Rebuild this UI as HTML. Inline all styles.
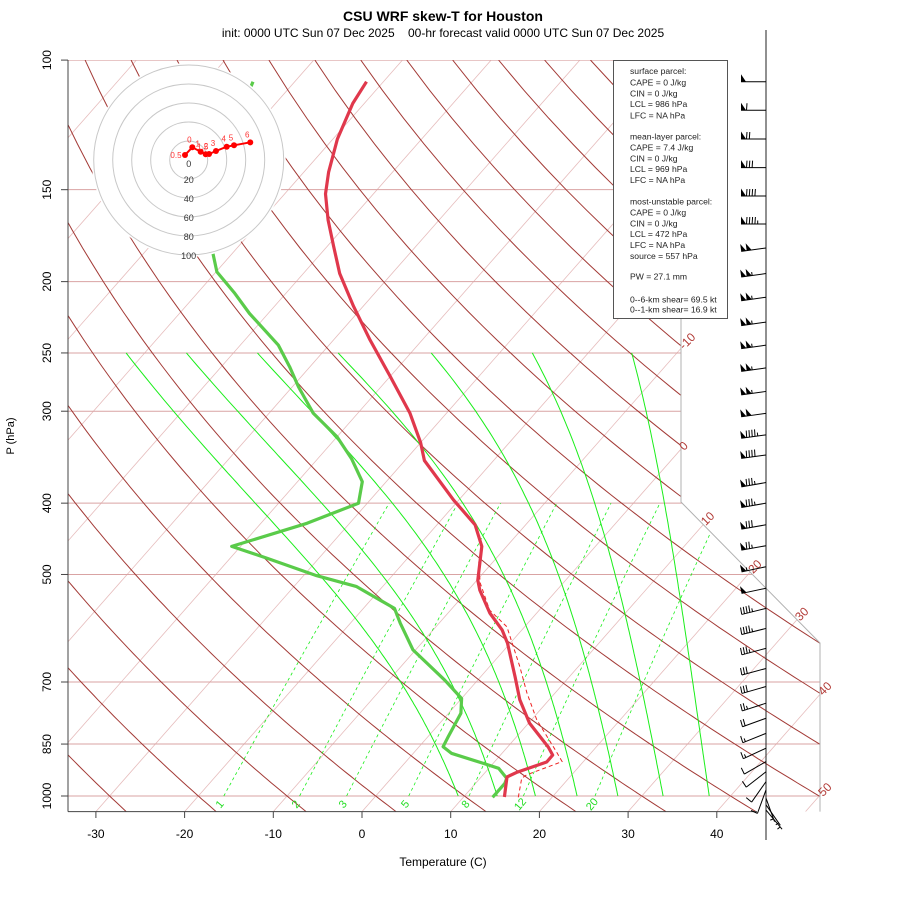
<!DOCTYPE html>
<html><head><meta charset="utf-8"><style>
body{margin:0;background:#fff;}
svg{display:block;font-family:"Liberation Sans",sans-serif;}
</style></head><body>
<svg id="chart" width="900" height="900" viewBox="0 0 900 900" xmlns="http://www.w3.org/2000/svg">
<defs><clipPath id="plotclip"><polygon points="68,60 681,60 681,502 820,643 820,811.6 68,811.6"/></clipPath></defs>
<rect x="0" y="0" width="900" height="900" fill="#fff"/>
<text x="443" y="21" font-size="14" font-weight="bold" text-anchor="middle">CSU WRF skew-T for Houston</text>
<text x="443" y="37" font-size="12" text-anchor="middle" xml:space="preserve">init: 0000 UTC Sun 07 Dec 2025    00-hr forecast valid 0000 UTC Sun 07 Dec 2025</text>
<g id="bg" clip-path="url(#plotclip)"></g>
<g id="fg"></g>
</svg>
<script>
// ---- data ----
const pressureTicks=[100,150,200,250,300,400,500,700,850,1000];
const tempTicks=[-30,-20,-10,0,10,20,30,40];
const mixRatios=[1,2,3,5,8,12,20];
const moistT1000=[9.3,13.7,18,22.7,27.3,32.4,37.6];
const moistT250=[-72.1,-65.3,-57.3,-48.2,-37.7,-26.3,-15.1];
const isoTemps=[-150,-140,-130,-120,-110,-100,-90,-80,-70,-60,-50,-40,-30,-20,-10,0,10,20,30,40,50];
const isoLabelTemps=[-10,0,10,20,30,40,50];
const thetas=[-40,-30,-20,-10,0,10,20,30,40,50,60,70,80,90,100,110,120,130,140,150,160,170,180,190,200,210,220,230,240,250];
const tempP=[107,114.5,128,142,152,165,179,195,216,240,269,302,331,350,396,428,458,509,525,564,595,620,689,740,796,858,880,899,928,942,1003];
const tempT=[-71.9,-71.3,-69.5,-67.2,-65.4,-62.5,-59.3,-55.9,-51.1,-45.9,-40.0,-34.1,-30.0,-27.8,-20.6,-15.7,-12.8,-9.9,-8.7,-5.3,-2.2,-0.3,3.9,6.7,10.1,14.6,15.9,15.9,13.6,12.9,14.6];
const dewP=[107,109,130,155,183,194,207,221,244,261,278,302,325,348,374,400,426,458,475,502,519,556,582,633,696,737,772,831,857,875,903,917,946,961,1004];
const dewT=[-84.7,-84.4,-80,-76,-72.2,-69.9,-65.9,-62.1,-55.7,-52.3,-49.3,-45.0,-40.0,-36.2,-32.7,-31.0,-34.8,-41.0,-35.9,-28.5,-23.0,-16.5,-14.4,-10.3,-3.7,0.0,1.4,2.3,2.7,4.3,8.9,11.1,13.0,13.3,13.3];
const parcelP=[1004,946,936,898,871,788,724,667,589,559,513,478];
const parcelT=[16.2,14.7,14.9,17.6,16.0,10.6,6.8,3.4,-2.0,-5.6,-9.4,-11.8];
const barbP=[107,117,128,140,153,167,180,195,210,227,244,262,282,302,323,344,375,400,428,457,488,522,556,592,630,671,710,748,784,822,861,898,927,956,981,1007,1028,1045];
const barbSpd=[50,60,70,80,90,95,100,105,105,105,105,105,105,100,95,90,85,85,80,75,55,50,45,45,35,30,30,25,20,15,15,10,10,10,10,5,5,5];
const barbDir=[270,270,270,270,270,270,262,262,262,262,262,262,262,262,262,262,260,260,260,260,258,258,256,256,255,255,254,252,250,248,245,240,232,215,200,160,145,140];
const hodoU=[-3.9,3.8,12.6,17.9,21.4,28.7,40.0,47.7,64.8];
const hodoV=[5.3,13.4,8.7,6.0,6.3,9.5,14.0,15.5,18.6];
const hodoLabels=["0.5","0","1","1.5","2","3","4","5","6"];
const hodoRings=[20,40,60,80,100];

// ---- axis functions ----
const NS="http://www.w3.org/2000/svg";
const yP=p=>796-319.6*Math.log(1000/p);
const xT=(T,p)=>362+8.87*T+0.88*(811.6-yP(p));
const xBottom=T=>362+8.87*T;
const bg=document.getElementById('bg'), fg=document.getElementById('fg');
function mk(tag,attrs,parent){const e=document.createElementNS(NS,tag);for(const k in attrs)e.setAttribute(k,attrs[k]);(parent||fg).appendChild(e);return e;}
function pathFrom(pts){return pts.map((q,i)=>(i?'L':'M')+q[0].toFixed(1)+','+q[1].toFixed(1)).join('');}

// isotherms
isoTemps.forEach(T=>{
  const e=mk('line',{x1:xT(T,1050),y1:yP(1050),x2:xT(T,100),y2:yP(100),stroke:'#e6bcbc','stroke-width':0.8},bg);
  
  
});
// pressure lines
pressureTicks.forEach(p=>{
  const e=mk('line',{x1:68,y1:yP(p),x2:820,y2:yP(p),stroke:'#d9a3a3','stroke-width':1},bg);
  
  
});
// dry adiabats
thetas.forEach(th=>{
  const pts=[];for(let p=1050;p>=100;p-=10){const T=(th+273.15)*Math.pow(p/1000,0.2857)-273.15;pts.push([xT(T,p),yP(p)]);}
  const e=mk('path',{d:pathFrom(pts),fill:'none',stroke:'#a33a36','stroke-width':1},bg);
  
  
});
// moist adiabats (pseudo-adiabat shape, pinned to read 1000/250 hPa values)
function dTdp(p,T){const es=6.112*Math.exp(17.67*(T-273.15)/(T-29.65));const rs=0.622*es/(p-es);
  return (287.04*T+2.501e6*rs)/(p*(1005.7+2.501e6*2.501e6*rs*0.622/(287.04*T*T)));}
moistT1000.forEach((t0,idx)=>{
  let T=t0+273.15;const raw=[];
  for(let p=1000;p>=250;p-=5){raw.push([p,T-273.15]);const k1=dTdp(p,T);const k2=dTdp(p-2.5,T-2.5*k1);T-=5*k2;}
  const corr=moistT250[idx]-raw[raw.length-1][1];
  const pts=raw.map(q=>{const f=Math.log(1000/q[0])/Math.log(4);return [xT(q[1]+corr*f,q[0]),yP(q[0])];});
  const e=mk('path',{d:pathFrom(pts),fill:'none',stroke:'#1aee1a','stroke-width':1},bg);
  
  
});
// mixing ratio lines
function tdFromW(w,p){const e=w*p/(622+w);const l=Math.log(e/6.112);return 243.5*l/(17.67-l);}
mixRatios.forEach(w=>{
  const pts=[];for(let p=1000;p>=400;p-=10)pts.push([xT(tdFromW(w,p),p),yP(p)]);
  const e=mk('path',{d:pathFrom(pts),fill:'none',stroke:'#1aee1a','stroke-width':0.8,'stroke-dasharray':'3,3'},bg);
  
  
  const x=xT(tdFromW(w,1025),1025),y=yP(1025);
  const t=mk('text',{x:x,y:y+4,'font-size':11,fill:'#22dd22','text-anchor':'middle',transform:`rotate(-50 ${x} ${y})`});
  t.textContent=w;
  
  
});
// boundary
const bd=mk('polyline',{points:'681,60 681,502 820,643 820,811.6',fill:'none',stroke:'#b0b0b0','stroke-width':1});


// isotherm labels
const bx=y=>y<=502?681:(y<=643?681+(y-502)*139/141:820);
isoLabelTemps.forEach(T=>{
  let yy=811.6;for(;yy>60;yy-=0.5){const x=362+8.87*T+0.88*(811.6-yy);if(x>=bx(yy))break;}
  const x=bx(yy);
  const t=mk('text',{x:x+3,y:yy+2,'font-size':12,fill:'#b23a36',transform:`rotate(-45 ${x+3} ${yy+2})`});
  t.textContent=T;
  
  
});
// y axis
const ya=mk('line',{x1:68,y1:60,x2:68,y2:811.6,stroke:'#444','stroke-width':1});


pressureTicks.forEach(p=>{
  const y=yP(p);
  const tk=mk('line',{x1:61,y1:y,x2:68,y2:y,stroke:'#444'});
  
  
  const t=mk('text',{x:51,y:y,'font-size':12,'text-anchor':'middle',transform:`rotate(-90 51 ${y})`});
  t.textContent=p;
  
  
});
const yt=mk('text',{x:14,y:436,'font-size':11,'text-anchor':'middle',transform:'rotate(-90 14 436)'});
yt.textContent='P (hPa)';


// x axis
const xa=mk('line',{x1:68,y1:811.6,x2:757,y2:811.6,stroke:'#444','stroke-width':1});


tempTicks.forEach(T=>{
  const x=xBottom(T);
  const tk=mk('line',{x1:x,y1:811.6,x2:x,y2:818,stroke:'#444'});
  
  
  const t=mk('text',{x:x,y:838,'font-size':12,'text-anchor':'middle'});
  t.textContent=T;
  
  
});
const xt=mk('text',{x:443,y:866,'font-size':12,'text-anchor':'middle'});
xt.textContent='Temperature (C)';


// profiles
const pp=mk('path',{d:pathFrom(parcelP.map((p,i)=>[xT(parcelT[i],p),yP(p)])),fill:'none',stroke:'#ee2222','stroke-width':1,'stroke-dasharray':'4,3'});


const dl=mk('path',{d:pathFrom(dewP.map((p,i)=>[xT(dewT[i],p),yP(p)])),fill:'none',stroke:'#5acb4a','stroke-width':3.2,'stroke-linejoin':'round'});


const tl=mk('path',{d:pathFrom(tempP.map((p,i)=>[xT(tempT[i],p),yP(p)])),fill:'none',stroke:'#e0384c','stroke-width':3.2,'stroke-linejoin':'round'});


// hodograph
const hx=188.7,hy=160,hs=0.95;
const hb=mk('circle',{cx:hx,cy:hy,r:97,fill:'#fff',stroke:'none'});


hodoRings.forEach(r=>{
  const c=mk('circle',{cx:hx,cy:hy,r:r*hs,fill:'none',stroke:'#c8c8c8','stroke-width':1});
  
  
  const t=mk('text',{x:hx,y:hy+r*hs+4,'font-size':9,'text-anchor':'middle',fill:'#333'});
  t.textContent=r;
  
  
});
const h0=mk('text',{x:hx,y:hy+7,'font-size':9,'text-anchor':'middle',fill:'#333'});
h0.textContent='0';


const hpts=hodoU.map((u,i)=>[hx+u*hs,hy-hodoV[i]*hs]);
const hl=mk('path',{d:pathFrom(hpts),fill:'none',stroke:'#ff0000','stroke-width':2});


hpts.forEach((q,i)=>{
  const c=mk('circle',{cx:q[0],cy:q[1],r:3,fill:'#ff0000'});
  
  
  const t=mk('text',{x:q[0]-(i==0?9:3),y:q[1]-(i==0?-3:5),'font-size':8,fill:'#ff3333','text-anchor':'middle'});
  t.textContent=hodoLabels[i];
  
  
});
// stats box
const sb=mk('rect',{x:613.5,y:60.5,width:114,height:258,fill:'#fff',stroke:'#555','stroke-width':1});


const statLines=[["surface parcel:",74],["CAPE = 0 J/kg",85.3],["CIN = 0 J/kg",96.6],["LCL = 986 hPa",107],["LFC = NA hPa",118.3],
["mean-layer parcel:",139.7],["CAPE = 7.4 J/kg",150.7],["CIN = 0 J/kg",161.7],["LCL = 969 hPa",172],["LFC = NA hPa",183],
["most-unstable parcel:",204.7],["CAPE = 0 J/kg",215.7],["CIN = 0 J/kg",226.3],["LCL = 472 hPa",237],["LFC = NA hPa",248],["source = 557 hPa",259],
["PW =  27.1 mm",279.7],["0--6-km shear= 69.5 kt",302.3],["0--1-km shear= 16.9 kt",312.3]];
statLines.forEach((s,i)=>{
  const t=mk('text',{x:630,y:s[1],'font-size':8.6,fill:'#222','xml:space':'preserve'});
  t.textContent=s[0];
  
  
});
// wind barbs
const wa=mk('line',{x1:766,y1:30,x2:766,y2:840,stroke:'#222','stroke-width':1});


barbP.forEach((p,i)=>{
  const g=mk('g',{});
  
  
  const y0=yP(p),x0=766,L=25,d=barbDir[i]*Math.PI/180;
  const ux=Math.sin(d),uy=-Math.cos(d);
  const nx=-uy,ny=ux;
  const tx=x0+L*ux,ty=y0+L*uy;
  mk('line',{x1:x0,y1:y0,x2:tx,y2:ty,stroke:'#000','stroke-width':1},g);
  let s=Math.round(barbSpd[i]/5)*5,pos=0;
  while(s>=50){
    const ax=tx-ux*pos,ay=ty-uy*pos;
    mk('polygon',{points:`${ax},${ay} ${ax+nx*7.5},${ay+ny*7.5} ${ax-ux*5},${ay-uy*5}`,fill:'#000'},g);
    pos+=5.5;s-=50;
  }
  if(pos==0&&s<10)pos=3;
  while(s>=10){
    const ax=tx-ux*pos,ay=ty-uy*pos;
    mk('line',{x1:ax,y1:ay,x2:ax+nx*7-ux*0.5,y2:ay+ny*7-uy*0.5,stroke:'#000','stroke-width':1},g);
    pos+=2.8;s-=10;
  }
  if(s>=5){
    const ax=tx-ux*pos,ay=ty-uy*pos;
    mk('line',{x1:ax,y1:ay,x2:ax+nx*3.5,y2:ay+ny*3.5,stroke:'#000','stroke-width':1},g);
  }
});
</script>
</body></html>
